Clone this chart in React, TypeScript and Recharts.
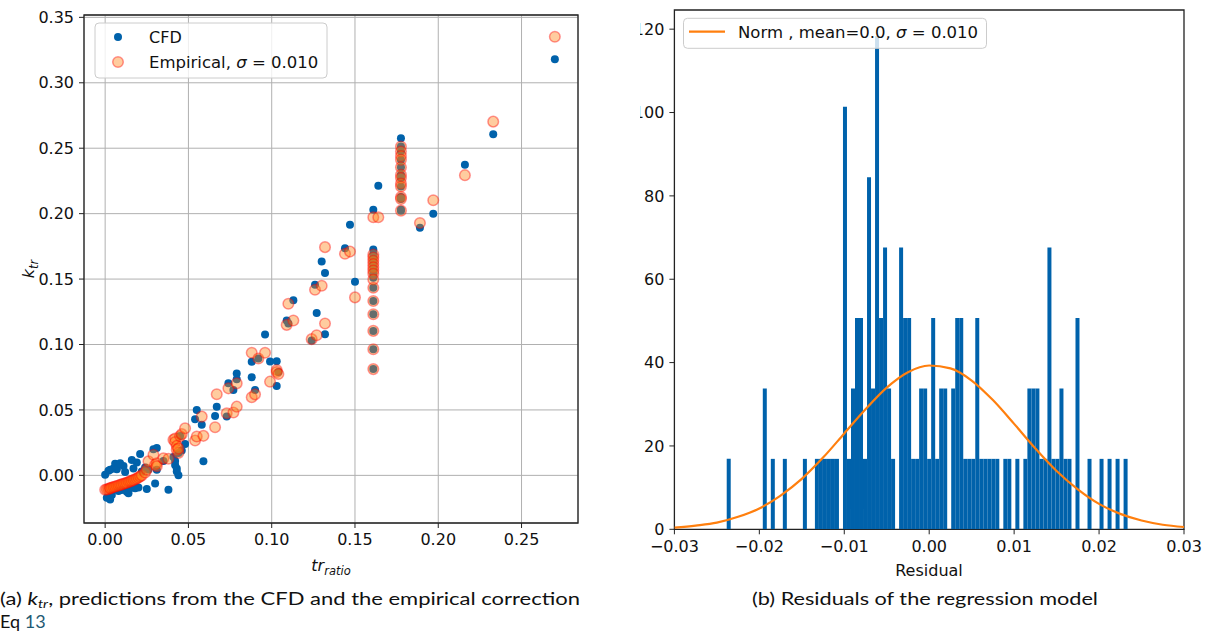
import React from 'react';
import {
  ScatterChart,
  Scatter,
  ComposedChart,
  Bar,
  Line,
  XAxis,
  YAxis,
  CartesianGrid,
  ReferenceArea,
} from 'recharts';

// ---- (a) k_tr against tr_ratio: one CFD value and one empirical value per case ----
const trRatio = [
  // small ratios
  0.000, 0.001, 0.002, 0.003, 0.003, 0.004, 0.005, 0.006, 0.007, 0.008, 0.009,
  0.010, 0.011, 0.012, 0.013, 0.014, 0.015, 0.016, 0.017, 0.018, 0.019, 0.020,
  0.021, 0.022, 0.024, 0.025, 0.026, 0.029, 0.030, 0.031, 0.031, 0.035, 0.038,
  // around 0.043
  0.041, 0.042, 0.042, 0.043, 0.043, 0.044, 0.044, 0.045, 0.046, 0.048,
  // middle range
  0.054, 0.055, 0.058, 0.059, 0.066, 0.067, 0.073, 0.074, 0.077, 0.079, 0.079,
  0.088, 0.088, 0.090, 0.092, 0.096, 0.099, 0.103, 0.103, 0.104, 0.109, 0.110,
  0.113, 0.124, 0.127, 0.132, 0.126, 0.130, 0.132, 0.144, 0.147, 0.150,
  // column at 0.161
  0.161, 0.161, 0.161, 0.161, 0.161, 0.161, 0.161, 0.161, 0.161, 0.161, 0.161,
  0.161, 0.161, 0.161, 0.161, 0.164,
  // column at 0.1776
  0.1776, 0.1776, 0.1776, 0.1776, 0.1776, 0.1776, 0.1776, 0.1776, 0.1776,
  0.1776, 0.1776, 0.1776,
  // large ratios
  0.189, 0.197, 0.216, 0.233, 0.270,
];

const kCfd = [
  0.0004, -0.0172, 0.0036, -0.0185, 0.0042, -0.0150, 0.0052, 0.0088, 0.0047, -0.0120, 0.0092,
  -0.0111, 0.0072, 0.0026, -0.0125, -0.0136, -0.0099, 0.0118, 0.0052, -0.0098, 0.0099, -0.0092,
  0.0164, 0.0030, 0.0060, -0.0104, 0.0045, 0.0200, -0.0063, 0.0210, 0.0042, 0.0110, -0.0110,
  0.0140, 0.0110, 0.0080, 0.0052, 0.0030, 0.0000, 0.0170, 0.0300, 0.0190, 0.0239,
  0.0429, 0.0500, 0.0386, 0.0107, 0.0454, 0.0525, 0.0449, 0.0703, 0.0652, 0.0779, 0.0734,
  0.0868, 0.0749, 0.0652, 0.0893, 0.1076, 0.0870, 0.0873, 0.0683, 0.0790, 0.1184, 0.1160,
  0.1338, 0.1030, 0.1241, 0.1079, 0.1456, 0.1634, 0.1546, 0.1736, 0.1915, 0.1480,
  0.1726, 0.1690, 0.1660, 0.1630, 0.1600, 0.1570, 0.1540, 0.1510, 0.1434, 0.1333, 0.1231,
  0.1104, 0.0964, 0.0812, 0.2030, 0.2213,
  0.2576, 0.2513, 0.2475, 0.2411, 0.2355, 0.2297, 0.2272, 0.2208, 0.2127,
  0.2112, 0.2030, 0.2023,
  0.1893, 0.2000, 0.2373, 0.2607, 0.3180,
];

const kEmpirical = [
  -0.0110, -0.0107, -0.0104, -0.0100, -0.0096, -0.0093, -0.0089, -0.0085, -0.0081, -0.0077, -0.0073,
  -0.0069, -0.0064, -0.0060, -0.0056, -0.0051, -0.0046, -0.0041, -0.0036, -0.0030, -0.0024, -0.0017,
  -0.0009, 0.0000, 0.0022, 0.0045, 0.0107, 0.0157, 0.0081, 0.0092, 0.0070, 0.0130, 0.0127,
  0.0272, 0.0282, 0.0255, 0.0225, 0.0195, 0.0172, 0.0205, 0.0300, 0.0315, 0.0360,
  0.0267, 0.0297, 0.0449, 0.0302, 0.0368, 0.0620, 0.0475, 0.0665, 0.0480, 0.0703, 0.0525,
  0.0937, 0.0597, 0.0619, 0.0893, 0.0937, 0.0716, 0.0805, 0.0790, 0.0775, 0.1150, 0.1311,
  0.1184, 0.1041, 0.1071, 0.1160, 0.1418, 0.1449, 0.1744, 0.1693, 0.1710, 0.1360,
  0.1688, 0.1665, 0.1640, 0.1615, 0.1590, 0.1565, 0.1540, 0.1497, 0.1434, 0.1333, 0.1231,
  0.1104, 0.0964, 0.0812, 0.1973, 0.1973,
  0.2513, 0.2475, 0.2440, 0.2411, 0.2355, 0.2297, 0.2272, 0.2230, 0.2208,
  0.2127, 0.2112, 0.2023,
  0.1929, 0.2102, 0.2294, 0.2703, 0.3352,
];

const trTicks = [0, 0.05, 0.1, 0.15, 0.2, 0.25];
const kTicks = [0, 0.05, 0.1, 0.15, 0.2, 0.25, 0.3, 0.35];

// ---- (b) residual histogram (density) over 100 equal bins ----
const residualBinStart = -0.02384;
const residualBinWidth = 0.000472;
const residualDensity = [
  16.9, 0, 0, 0, 0, 0, 0, 0, 0, 33.8,
  0, 16.9, 0, 0, 16.9, 0, 0, 0, 0, 16.9,
  0, 0, 16.9, 16.9, 16.9, 16.9, 16.9, 16.9, 0, 101.4,
  16.9, 33.8, 50.7, 50.7, 16.9, 84.5, 33.8, 118.3, 50.7, 67.6,
  33.8, 16.9, 0, 67.6, 50.7, 50.7, 16.9, 16.9, 33.8, 33.8,
  16.9, 50.7, 16.9, 33.8, 33.8, 0, 33.8, 50.7, 50.7, 16.9,
  16.9, 16.9, 50.7, 16.9, 16.9, 16.9, 16.9, 16.9, 0, 16.9,
  16.9, 0, 16.9, 0, 16.9, 33.8, 33.8, 33.8, 16.9, 16.9,
  67.6, 16.9, 16.9, 33.8, 16.9, 16.9, 0, 50.7, 0, 0,
  16.9, 0, 0, 16.9, 0, 16.9, 0, 16.9, 0, 16.9,
];

// fitted normal curve, mean=0.0, sigma=0.010
const normX = [
  -0.03, -0.0275, -0.025, -0.0225, -0.02, -0.0175, -0.015, -0.0125, -0.01, -0.0075,
  -0.005, -0.0025, 0, 0.0025, 0.005, 0.0075, 0.01, 0.0125, 0.015, 0.0175,
  0.02, 0.0225, 0.025, 0.0275, 0.03,
];
const normPdf = [
  0.4, 0.9, 1.6, 3.0, 5.0, 8.1, 12.1, 17.2, 23.0, 28.8,
  34.0, 37.7, 39.3, 38.6, 35.7, 31.0, 25.3, 19.4, 14.0, 9.6,
  6.1, 3.7, 2.1, 1.1, 0.55,
];

const residualTicks = [-0.03, -0.02, -0.01, 0, 0.01, 0.02, 0.03];
const densityTicks = [0, 20, 40, 60, 80, 100, 120];

const cfdPoints = trRatio.map((x, i) => ({ x, y: kCfd[i] }));
const empiricalPoints = trRatio.map((x, i) => ({ x, y: kEmpirical[i] }));
const histData = residualDensity.map((density, i) => ({
  x: residualBinStart + (i + 0.5) * residualBinWidth,
  density,
}));
const normData = normX.map((x, i) => ({ x, pdf: normPdf[i] }));

const BLUE = '#0062ab';
const ORANGE = '#ff7f0e';
const AXIS = '#222222';
const FONT = '"DejaVu Sans", sans-serif';
const CAPTION_FONT = 'Lato, sans-serif';
const tickStyle = { fontSize: 16, fontFamily: FONT, fill: '#111' };

const fmt2 = (v: number) => (v < 0 ? '\u2212' + Math.abs(v).toFixed(2) : v.toFixed(2));

const CfdDot = (p: any) => <circle cx={p.cx} cy={p.cy} r={4} fill={BLUE} />;
const EmpiricalDot = (p: any) => (
  <circle
    cx={p.cx}
    cy={p.cy}
    r={5.3}
    fill={ORANGE}
    fillOpacity={0.4}
    stroke="#ff0000"
    strokeOpacity={0.4}
    strokeWidth={1.5}
  />
);

const K_MIN = -0.0364;
const K_MAX = 0.3518;
const TR_MIN = -0.0127;
const TR_MAX = 0.2839;
const DENS_MAX = 124.6;

function KtrChart() {
  return (
    <ScatterChart width={600} height={585} margin={{ top: 15, right: 22, bottom: 0, left: 0 }}>
      <CartesianGrid stroke="#b0b0b0" strokeWidth={1} />
      <XAxis
        type="number"
        dataKey="x"
        domain={[TR_MIN, TR_MAX]}
        ticks={trTicks}
        allowDataOverflow
        height={62}
        tickFormatter={fmt2}
        tick={tickStyle}
        tickSize={5}
        tickMargin={6}
        axisLine={false}
        tickLine={{ stroke: AXIS }}
      />
      <YAxis
        type="number"
        dataKey="y"
        domain={[K_MIN, K_MAX]}
        ticks={kTicks}
        allowDataOverflow
        width={84}
        tickFormatter={fmt2}
        tick={tickStyle}
        tickSize={5}
        tickMargin={5}
        axisLine={false}
        tickLine={{ stroke: AXIS }}
      />
      <Scatter name="CFD" data={cfdPoints} shape={CfdDot} isAnimationActive={false} />
      <Scatter name="Empirical" data={empiricalPoints} shape={EmpiricalDot} isAnimationActive={false} />
      <ReferenceArea
        x1={TR_MIN}
        x2={TR_MAX}
        y1={K_MIN}
        y2={K_MAX}
        fill="none"
        stroke={AXIS}
        strokeWidth={1.3}
        ifOverflow="visible"
      />
    </ScatterChart>
  );
}

function ResidualChart() {
  return (
    <ComposedChart
      width={608}
      height={600}
      data={histData}
      margin={{ top: 10, right: 24, bottom: 0, left: 0 }}
      barCategoryGap={0}
      barGap={0}
    >
      <XAxis
        type="number"
        dataKey="x"
        domain={[-0.03, 0.03]}
        ticks={residualTicks}
        allowDataOverflow
        height={70.7}
        tickFormatter={fmt2}
        tick={tickStyle}
        tickSize={5}
        tickMargin={6}
        axisLine={false}
        tickLine={{ stroke: AXIS }}
      />
      <XAxis xAxisId="curve" type="number" dataKey="x" domain={[-0.03, 0.03]} allowDataOverflow hide />
      <YAxis
        type="number"
        domain={[0, DENS_MAX]}
        ticks={densityTicks}
        allowDataOverflow
        width={74.4}
        tick={tickStyle}
        tickSize={5}
        tickMargin={5}
        axisLine={false}
        tickLine={{ stroke: AXIS }}
      />
      <Bar dataKey="density" fill={BLUE} isAnimationActive={false} />
      <Line
        xAxisId="curve"
        data={normData}
        dataKey="pdf"
        type="monotone"
        stroke={ORANGE}
        strokeWidth={2.2}
        dot={false}
        isAnimationActive={false}
      />
      <ReferenceArea
        x1={-0.03}
        x2={0.03}
        y1={0}
        y2={DENS_MAX}
        fill="none"
        stroke={AXIS}
        strokeWidth={1.3}
        ifOverflow="visible"
      />
    </ComposedChart>
  );
}

// axis titles, legends and captions
function Annotations() {
  const math = { fontFamily: FONT, fontStyle: 'italic' as const };
  return (
    <svg
      width={1208}
      height={633}
      style={{ position: 'absolute', left: 0, top: 0, pointerEvents: 'none' }}
    >
      {/* y title of (a) */}
      <text transform="translate(34,269) rotate(-90)" textAnchor="middle" fontSize={16} fill="#111" style={math}>
        k<tspan fontSize={11.5} dy={4}>tr</tspan>
      </text>
      {/* x title of (a) */}
      <text x={331} y={571} textAnchor="middle" fontSize={16} fill="#111" style={math}>
        tr<tspan fontSize={11.5} dy={4}>ratio</tspan>
      </text>
      {/* x title of (b) */}
      <text x={929} y={576} textAnchor="middle" fontSize={16} fill="#111" fontFamily={FONT}>
        Residual
      </text>

      {/* legend of (a) */}
      <rect x={95} y={23} width={232} height={55} rx={4} fill="#fff" fillOpacity={0.8} stroke="#cccccc" />
      <circle cx={118} cy={37} r={4} fill={BLUE} />
      <text x={149} y={43} fontSize={16} fill="#111" fontFamily={FONT}>CFD</text>
      <circle
        cx={118}
        cy={62}
        r={5.3}
        fill={ORANGE}
        fillOpacity={0.4}
        stroke="#ff0000"
        strokeOpacity={0.4}
        strokeWidth={1.5}
      />
      <text x={149} y={68} fontSize={16.5} fill="#111" fontFamily={FONT}>
        Empirical, <tspan fontStyle="italic">σ</tspan> = 0.010
      </text>

      {/* legend of (b) */}
      <rect x={683.5} y={18.3} width={303} height={30} rx={4} fill="#fff" fillOpacity={0.8} stroke="#cccccc" />
      <line x1={689} x2={725} y1={31.7} y2={31.7} stroke={ORANGE} strokeWidth={2.2} />
      <text x={738} y={37.5} fontSize={16.5} fill="#111" fontFamily={FONT}>
        Norm , mean=0.0, <tspan fontStyle="italic">σ</tspan> = 0.010
      </text>

      {/* captions */}
      <text x={0} y={605} fontSize={18} fill="#111" fontFamily={CAPTION_FONT} textLength={580} lengthAdjust="spacingAndGlyphs">
        (a) <tspan fontStyle="italic">k</tspan>
        <tspan fontStyle="italic" fontSize={12} dy={3}>tr</tspan>
        <tspan dy={-3}>, predictions from the CFD and the empirical correction</tspan>
      </text>
      <text x={0} y={628} fontSize={18} fill="#111" fontFamily={CAPTION_FONT}>
        Eq <tspan fill="#1f5a73">13</tspan>
      </text>
      <text x={752} y={605} fontSize={18} fill="#111" fontFamily={CAPTION_FONT} textLength={346} lengthAdjust="spacingAndGlyphs">
        (b) Residuals of the regression model
      </text>
    </svg>
  );
}

export default function App() {
  return (
    <div
      style={{
        position: 'absolute',
        left: 0,
        top: 0,
        width: 1208,
        height: 633,
        background: '#fff',
        overflow: 'hidden',
      }}
    >
      <div style={{ position: 'absolute', left: 0, top: 0 }}>
        <KtrChart />
      </div>
      {/* panel (b) is trimmed on its left edge */}
      <div style={{ position: 'absolute', left: 640, top: 0, width: 568, height: 590, overflow: 'hidden' }}>
        <div style={{ position: 'absolute', left: -40, top: 0 }}>
          <ResidualChart />
        </div>
      </div>
      <Annotations />
    </div>
  );
}
